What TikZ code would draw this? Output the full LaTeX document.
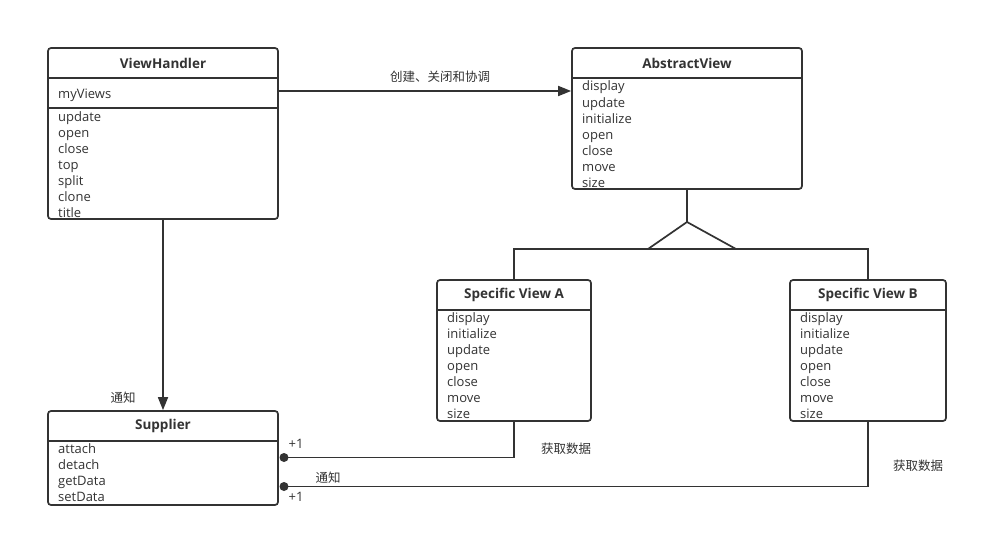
\documentclass[tikz,border=0pt]{standalone}
\usepackage{fontspec}
\setmainfont{Open Sans}
\newfontfamily\cjk{Noto Sans CJK SC}
\usetikzlibrary{arrows.meta}
\definecolor{ln}{HTML}{333333}
\definecolor{tx}{HTML}{333333}
\tikzset{
  umlbox/.style={draw=ln, line width=1.7pt, rounded corners=3pt, fill=white, inner sep=0pt},
  divider/.style={draw=ln, line width=1.7pt},
  conn/.style={draw=ln, line width=1.7pt},
  ttl/.style={font=\fontsize{13.5}{15}\selectfont\bfseries, text=tx, inner sep=0pt},
  item/.style={font=\fontsize{13}{16}\selectfont, text=tx, inner sep=0pt, anchor=base west},
  zh/.style={font=\cjk\fontsize{12.5}{14}\selectfont, text=tx, inner sep=0pt},
  pl/.style={font=\fontsize{13}{14}\selectfont, text=tx, inner sep=0pt},
  dot/.style={circle, fill=ln, inner sep=0pt, minimum size=9pt}
}
\begin{document}
\begin{tikzpicture}[x=1pt,y=-1pt]
\useasboundingbox (0,0) rectangle (993,551);
\fill[white] (0,0) rectangle (993,551);

% ViewHandler
\node[umlbox, minimum width=230pt, minimum height=171pt] (vh) at (163,133.5) {};
\draw[divider] (48,78) -- (278,78);
\draw[divider] (48,108) -- (278,108);
\node[ttl] (vht) at (163,63.5) {ViewHandler};
\node[item] (vha) at (58,98) {myViews};
\foreach \t [count=\i] in {update,open,close,top,split,clone,title}
  \node[item] (vhm\i) at (58,{121+16*(\i-1)}) {\t};

% AbstractView
\node[umlbox, minimum width=230pt, minimum height=141pt] (av) at (687,118.5) {};
\draw[divider] (572,78) -- (802,78);
\node[ttl] (avt) at (687,63.5) {AbstractView};
\foreach \t [count=\i] in {display,update,initialize,open,close,move,size}
  \node[item] (avm\i) at (582,{91+16*(\i-1)}) {\t};

% Specific View A
\node[umlbox, minimum width=154pt, minimum height=141pt] (sa) at (514,350.5) {};
\draw[divider] (437,310) -- (591,310);
\node[ttl] (sat) at (514,294.5) {Specific View A};
\foreach \t [count=\i] in {display,initialize,update,open,close,move,size}
  \node[item] (sam\i) at (447,{322+16*(\i-1)}) {\t};

% Specific View B
\node[umlbox, minimum width=156pt, minimum height=141pt] (sb) at (868,350.5) {};
\draw[divider] (790,310) -- (946,310);
\node[ttl] (sbt) at (868,294.5) {Specific View B};
\foreach \t [count=\i] in {display,initialize,update,open,close,move,size}
  \node[item] (sbm\i) at (800,{322+16*(\i-1)}) {\t};

% Supplier
\node[umlbox, minimum width=230pt, minimum height=94pt] (sup) at (163,458) {};
\draw[divider] (48,441) -- (278,441);
\node[ttl] (supt) at (163,425.5) {Supplier};
\foreach \t [count=\i] in {attach,detach,getData,setData}
  \node[item] (supm\i) at (58,{453+16*(\i-1)}) {\t};

% create/close/coordinate arrow
\draw[conn, -{Triangle[length=13pt,width=10pt]}] (vh.east |- 0,91) -- (av.west |- 0,91);
\node[zh] (lc) at (440,77) {创建、关闭和协调};

% notify arrow to Supplier
\draw[conn, -{Triangle[length=13pt,width=10pt]}] (vh.south) -- (sup.north);
\node[zh] (ln1) at (123,398) {通知};

% generalization
\coordinate (apex) at (687,222);
\coordinate (tl) at (648,249);
\coordinate (tr) at (736,249);
\draw[conn] (av.south) -- (apex);
\draw[conn, line join=miter] (tl) -- (apex) -- (tr);
\draw[conn] (sa.north) |- (tl);
\draw[conn] (sb.north) |- (tr);
\draw[conn] (tl) -- (tr);

% data connectors
\coordinate (ca) at (284,457.5);
\coordinate (cb) at (284,486.5);
\draw[conn] (sa.south) |- (ca);
\draw[conn] (sb.south) |- (cb);
\node[dot] (da) at (ca) {};
\node[dot] (db) at (cb) {};
\node[pl] (p1) at (296,444) {+1};
\node[pl] (p2) at (296,497) {+1};
\node[zh] (ln2) at (328,478) {通知};
\node[zh] (g1) at (566,449) {获取数据};
\node[zh] (g2) at (918,466) {获取数据};
\end{tikzpicture}
\end{document}
